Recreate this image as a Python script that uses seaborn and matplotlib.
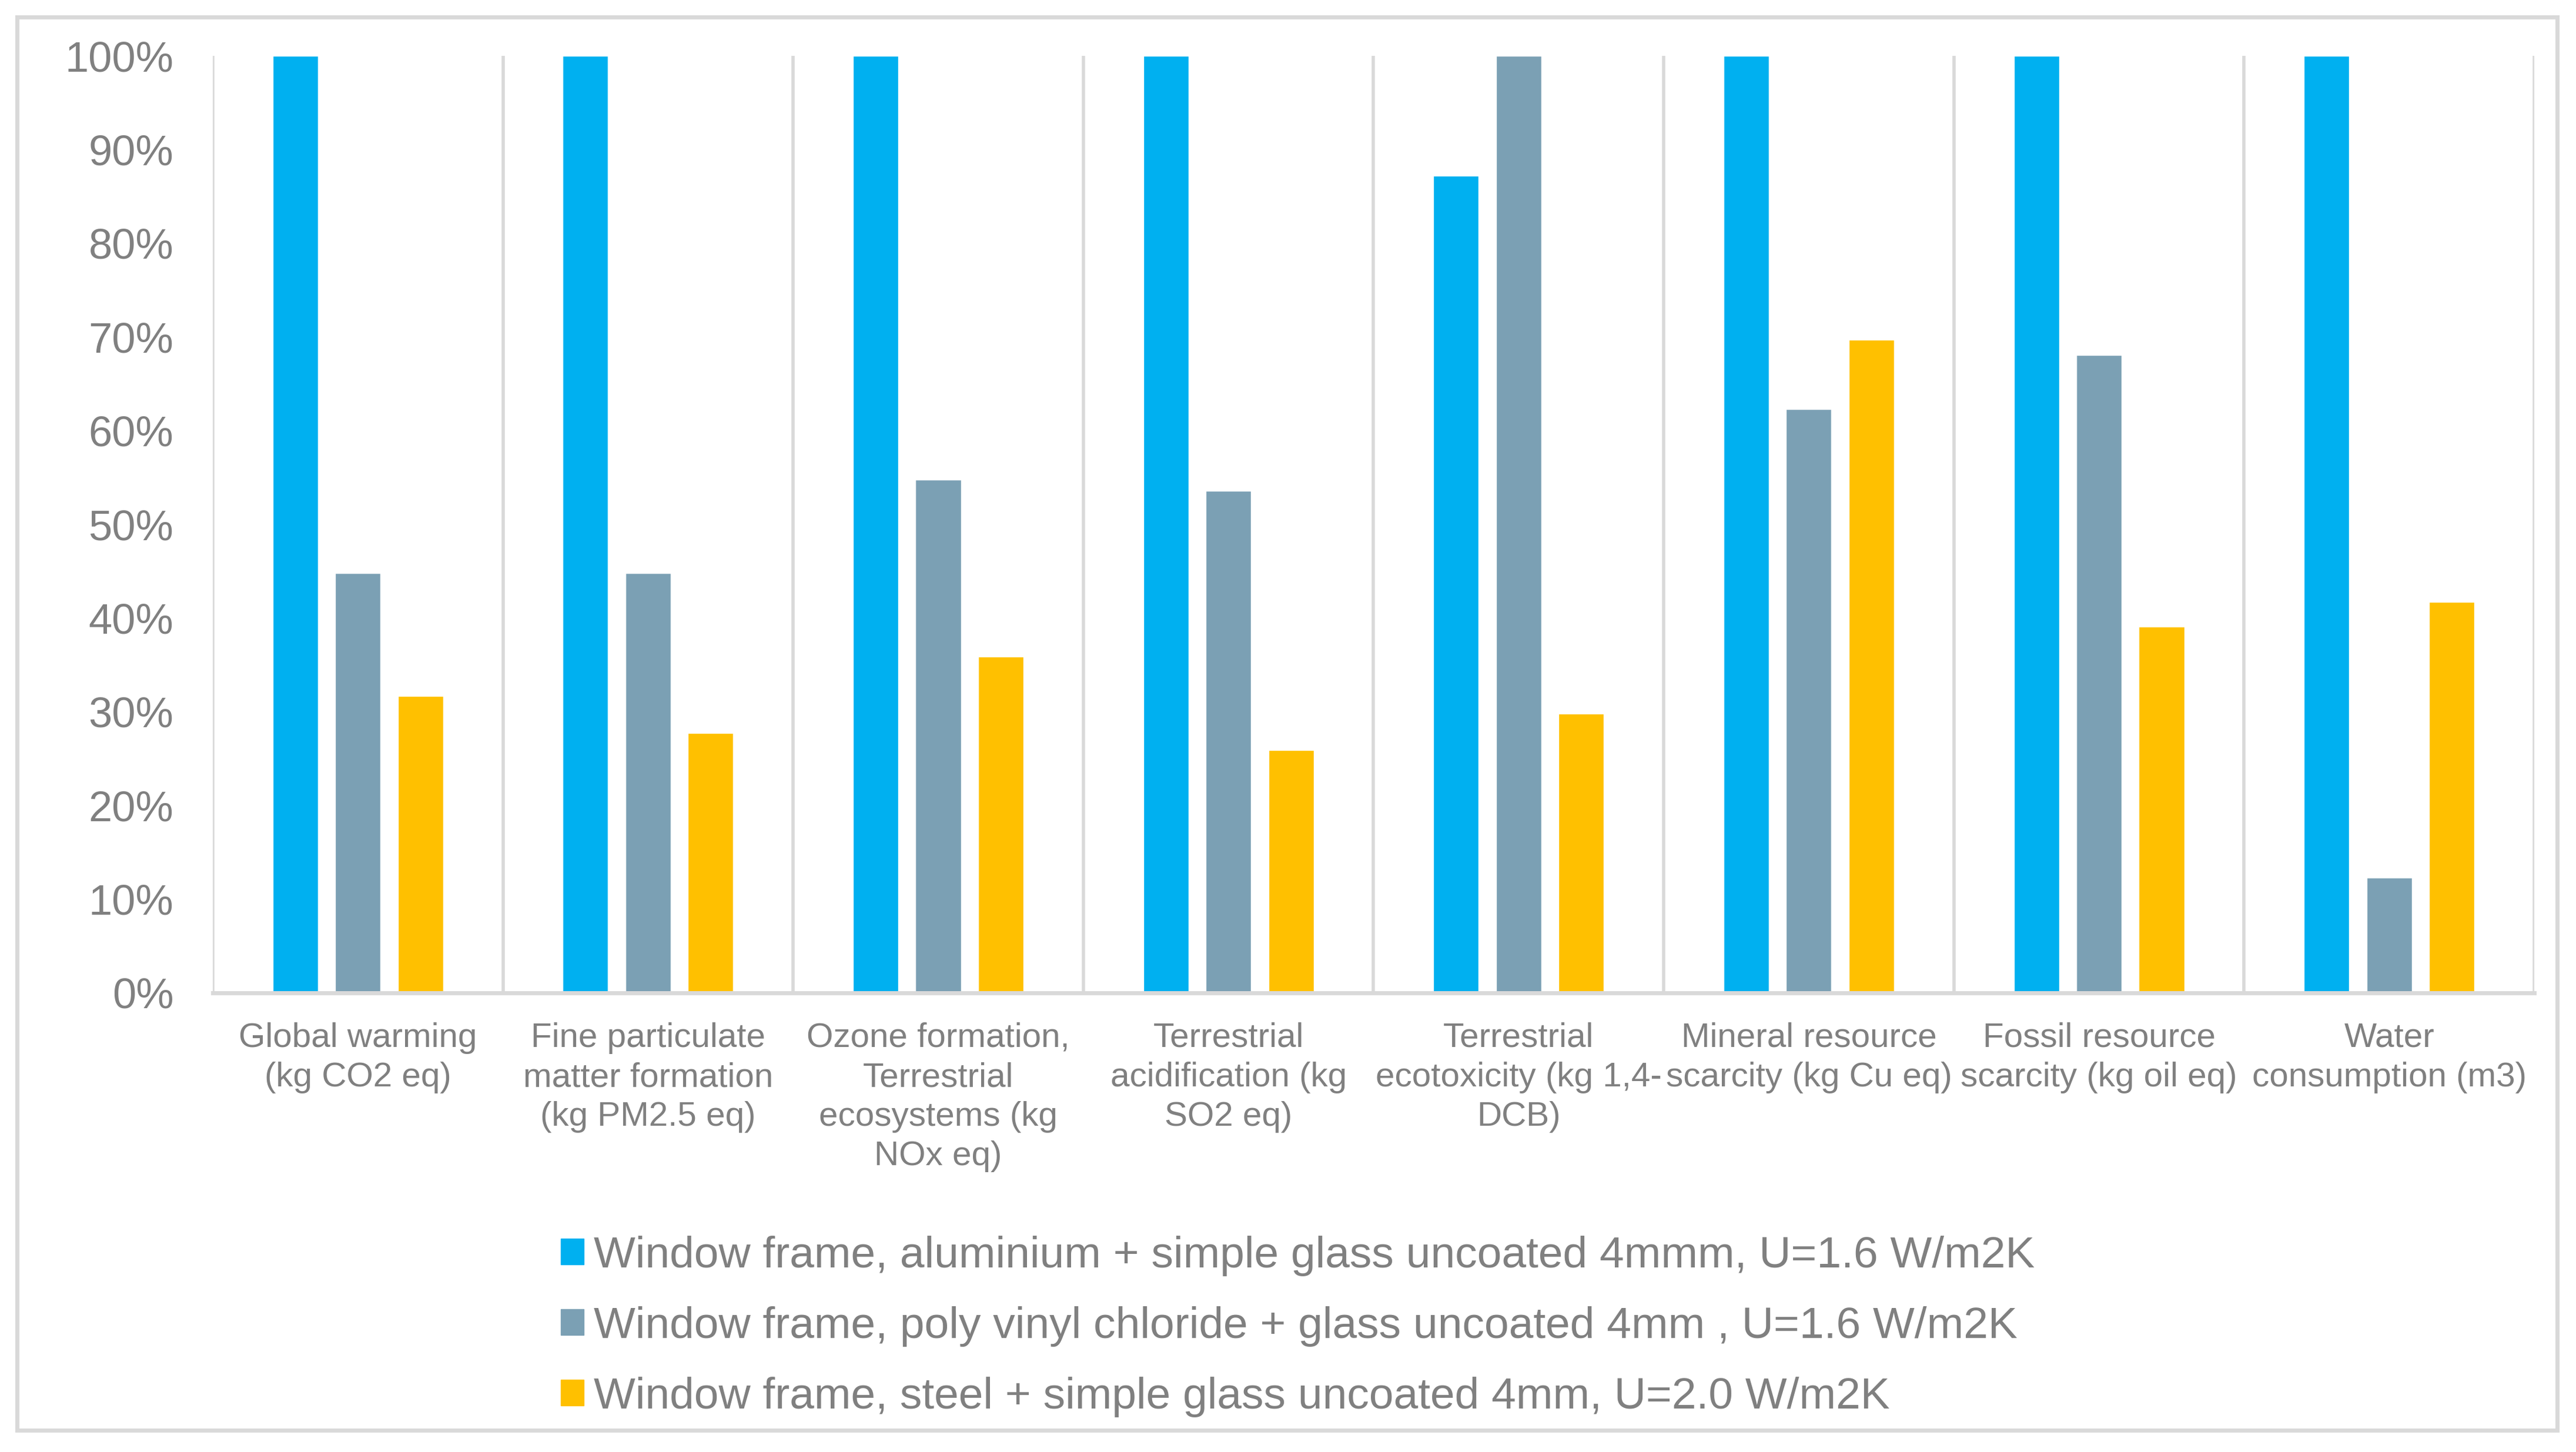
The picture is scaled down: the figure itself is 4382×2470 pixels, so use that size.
import pandas as pd
import numpy as np
import matplotlib
matplotlib.use('Agg')
import matplotlib.pyplot as plt
from matplotlib.patches import Rectangle
from matplotlib.ticker import PercentFormatter
import seaborn as sns

# Impact categories (labels wrapped as in the original chart)
categories = [
    'Global warming\n(kg CO2 eq)',
    'Fine particulate\nmatter formation\n(kg PM2.5 eq)',
    'Ozone formation,\nTerrestrial\necosystems (kg\nNOx eq)',
    'Terrestrial\nacidification (kg\nSO2 eq)',
    'Terrestrial\necotoxicity (kg 1,4-\nDCB)',
    'Mineral resource\nscarcity (kg Cu eq)',
    'Fossil resource\nscarcity (kg oil eq)',
    'Water\nconsumption (m3)',
]

series_names = [
    'Window frame, aluminium + simple glass uncoated 4mmm, U=1.6 W/m2K',
    'Window frame, poly vinyl chloride + glass uncoated 4mm , U=1.6 W/m2K',
    'Window frame, steel + simple glass uncoated 4mm, U=2.0 W/m2K',
]

# Relative results in %
aluminium = [100, 100, 100, 100, 87.2, 100, 100, 100]
pvc = [44.8, 44.8, 54.8, 53.6, 100, 62.3, 68.1, 12.3]
steel = [31.7, 27.7, 35.9, 25.9, 29.8, 69.7, 39.1, 41.7]

colors = ['#00B0F0', '#7BA0B4', '#FFC000']
text_color = '#808080'
line_color = '#D9D9D9'

rows = []
for name, vals in zip(series_names, [aluminium, pvc, steel]):
    for cat, v in zip(categories, vals):
        rows.append({'Category': cat, 'Series': name, 'Value': v})
df = pd.DataFrame(rows)

sns.set_style('white')
plt.rcParams['font.family'] = ['Liberation Sans', 'DejaVu Sans']

fig = plt.figure(figsize=(43.82, 24.70), dpi=100)
ax = fig.add_axes([0.0826, 0.3162, 0.9838 - 0.0826, 0.9615 - 0.3162])

sns.barplot(data=df, x='Category', y='Value', hue='Series', order=categories,
            hue_order=series_names, palette=colors, saturation=1,
            width=0.647, gap=0.276, ax=ax, legend=False)

ax.set_xlim(-0.5, len(categories) - 0.5)
ax.set_ylim(0, 100)
ax.set_yticks(np.arange(0, 101, 10))
ax.yaxis.set_major_formatter(PercentFormatter(decimals=0))
ax.set_xlabel('')
ax.set_ylabel('')

# vertical separators between categories
ax.set_xticks(np.arange(-0.5, len(categories)), minor=True)
ax.grid(False)
ax.grid(which='minor', axis='x', color=line_color, linewidth=4)
ax.set_axisbelow(True)

for s in ['top', 'left', 'right']:
    ax.spines[s].set_visible(False)
ax.spines['bottom'].set_color(line_color)
ax.spines['bottom'].set_linewidth(5)

ax.tick_params(axis='y', length=0, pad=48, labelsize=52, labelcolor=text_color)
ax.tick_params(axis='x', which='both', length=0, pad=36, labelsize=42,
               labelcolor=text_color)
for lbl in ax.get_xticklabels():
    lbl.set_linespacing(1.31)

# legend below the plot
handles = [Rectangle((0, 0), 1, 1, color=c) for c in colors]
fig.legend(handles, series_names, loc='center left',
           bbox_to_anchor=(0.2177, 0.0866), frameon=False, fontsize=54,
           labelcolor=text_color, handlelength=0.52, handleheight=0.52,
           handletextpad=0.23, labelspacing=0.68, borderpad=0, borderaxespad=0)

# outer chart border
fig.patches.append(Rectangle((0.0066, 0.015), 0.9927 - 0.0066, 0.9883 - 0.015,
                             transform=fig.transFigure, fill=False,
                             edgecolor=line_color, linewidth=5))

fig.savefig('out.png', dpi=100)
